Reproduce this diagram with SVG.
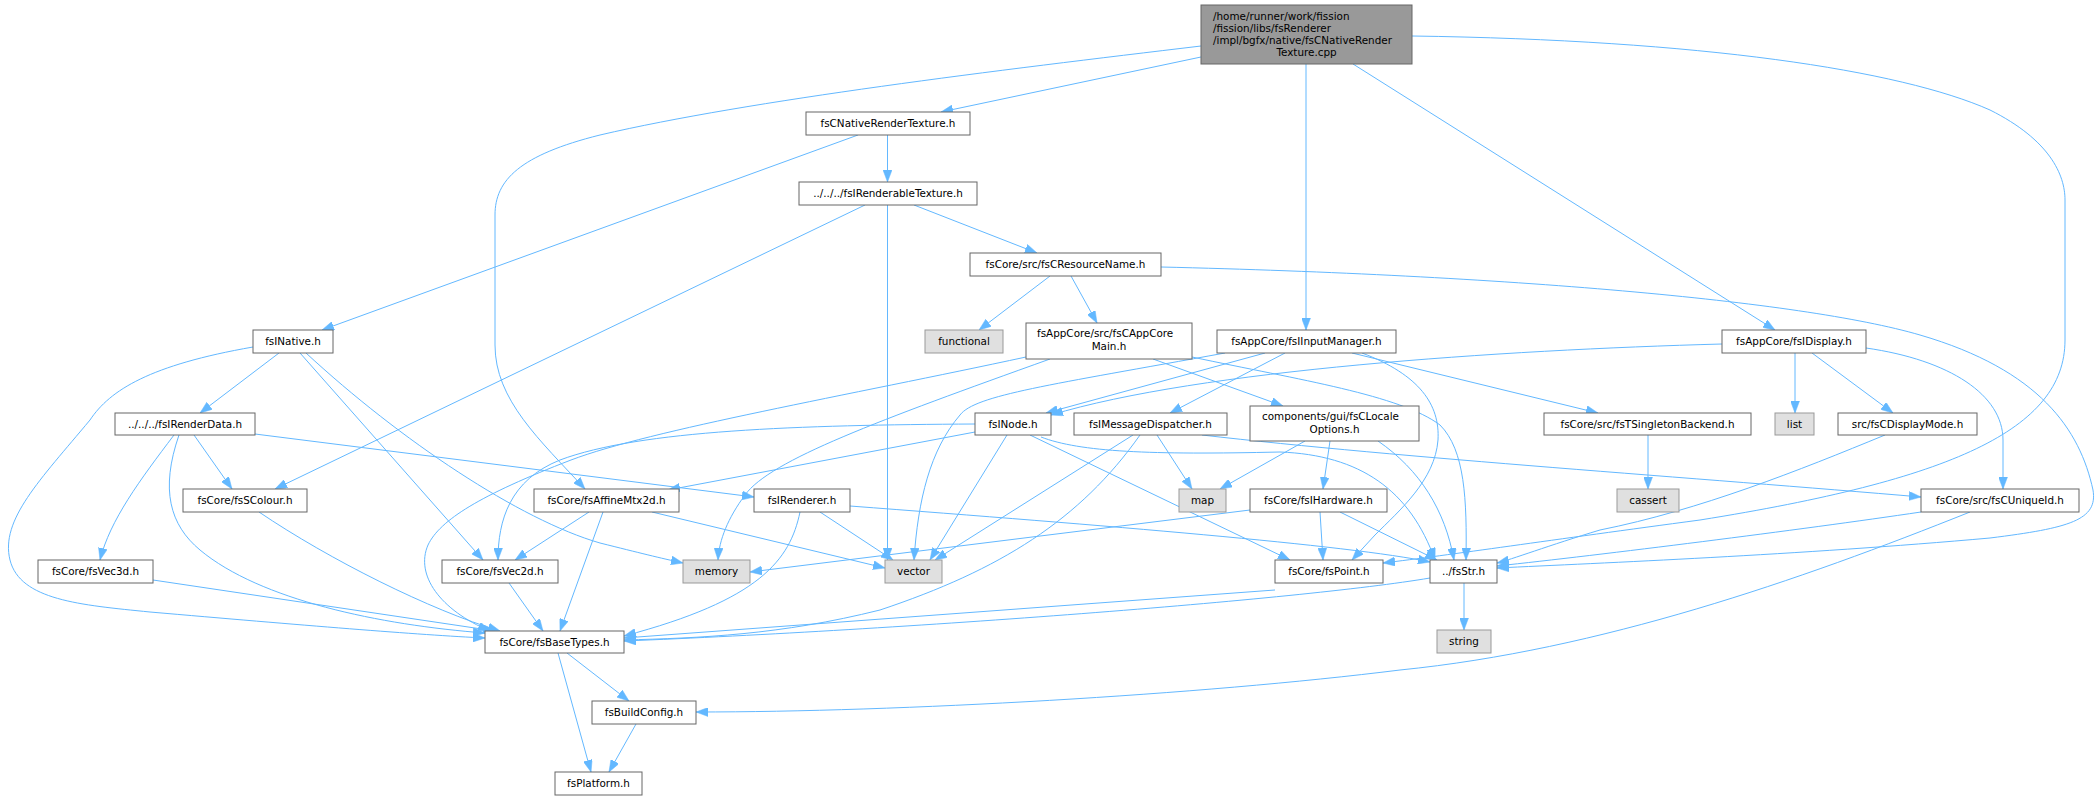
<svg xmlns="http://www.w3.org/2000/svg" width="2100" height="800" viewBox="0 0 2100 800">
<style>
rect{fill:#ffffff;stroke:#666666;stroke-width:1}
.g rect{fill:#e0e0e0;stroke:#999999}
.r rect{fill:#999999;stroke:#666666}
text{font-family:"DejaVu Sans","Liberation Sans",sans-serif;font-size:10.4px;fill:#000;text-anchor:middle}
text.l{text-anchor:start}
#edges path{fill:none;stroke:#63b8ff;stroke-width:1;marker-end:url(#ah)}
</style>
<defs>
<marker id="ah" markerUnits="userSpaceOnUse" markerWidth="12" markerHeight="9" refX="12" refY="4.5" orient="auto">
<path d="M0,0 L12,4.5 L0,9 z" fill="#63b8ff" stroke="#63b8ff" stroke-width="0.5"/>
</marker>
</defs>
<rect x="0" y="0" width="2100" height="800" style="fill:#ffffff;stroke:none"/>
<g id="edges">
<path d="M1201,57 L941,112"/>
<path d="M1201,46 C1000,70 750,100 600,135 C520,155 495,180 495,215 L495,345 C495,400 540,440 585,489"/>
<path d="M1306,64 L1306,330"/>
<path d="M1353,64 L1775,330"/>
<path d="M1412,36 C1700,40 1900,70 1990,110 C2050,140 2065,175 2065,200 L2065,340 C2065,430 1950,480 1700,520 C1550,540 1450,555 1383,563"/>
<path d="M858,135 L322,330"/>
<path d="M887.5,135 L887.5,182"/>
<path d="M865,205 L275,489"/>
<path d="M887.5,205 L887.5,560"/>
<path d="M914,205 L1037,253"/>
<path d="M1050,276 L979,330"/>
<path d="M1071,276 L1097,323"/>
<path d="M1161,267 C1500,275 1800,300 1920,335 C2040,370 2080,430 2093,490 C2098,520 2070,528 1990,538 C1800,555 1600,563 1497,568"/>
<path d="M279,353 L200,413"/>
<path d="M253,347 C150,365 110,390 90,420 C40,480 0,520 10,560 C20,600 80,605 150,612 C300,625 420,635 485,638"/>
<path d="M300,353 L483,560"/>
<path d="M306,353 C400,440 520,520 600,543 C640,553 660,558 683,563"/>
<path d="M174,435 C140,480 110,520 100,560"/>
<path d="M179,435 C160,490 170,525 200,550 C260,600 380,625 485,633"/>
<path d="M194,435 L232,489"/>
<path d="M255,434 L754,497"/>
<path d="M259,512 C330,560 430,610 500,631"/>
<path d="M153,580 L495,631"/>
<path d="M589,512 L515,560"/>
<path d="M603,512 L560,631"/>
<path d="M652,512 L885,568"/>
<path d="M509,583 L543,631"/>
<path d="M975,432 L668,490"/>
<path d="M975,424 C800,425 640,430 560,460 C510,480 498,520 498,560"/>
<path d="M1007,435 L930,560"/>
<path d="M1030,435 L1290,560"/>
<path d="M1041,437 C1080,452 1150,455 1280,452 C1360,455 1410,490 1435,560"/>
<path d="M1265,353 L1046,413"/>
<path d="M1225,353 C1050,385 975,395 960,415 C930,450 918,500 914,560"/>
<path d="M1285,353 L1170,413"/>
<path d="M1352,353 L1598,413"/>
<path d="M1362,353 C1420,375 1440,405 1438,440 C1435,480 1400,510 1375,535 L1352,560"/>
<path d="M1722,344 C1500,350 1200,370 1051,415"/>
<path d="M1795,353 L1795,413"/>
<path d="M1812,353 L1893,413"/>
<path d="M1866,348 C1950,360 2003,395 2003,440 L2003,489"/>
<path d="M1648,435 L1648,489"/>
<path d="M1885,435 C1800,470 1700,510 1600,530 C1550,545 1510,560 1497,563"/>
<path d="M1921,512 C1800,530 1600,555 1497,566"/>
<path d="M1970,512 C1800,580 1600,650 1400,670 C1200,695 900,712 696,712"/>
<path d="M1050,359 C880,420 770,460 745,495 C728,518 719,540 718,560"/>
<path d="M1153,359 L1283,406"/>
<path d="M1026,357 C850,395 650,430 571,460 C480,495 440,520 428,545 C415,575 440,610 490,631"/>
<path d="M1192,357 C1300,380 1400,395 1440,425 C1465,450 1467,500 1466,560"/>
<path d="M1378,441 C1420,470 1445,510 1454,560"/>
<path d="M1202,435 C1400,458 1700,478 1921,497"/>
<path d="M1157,435 L1192,489"/>
<path d="M1133,435 L935,560"/>
<path d="M1140,435 C1080,520 1000,570 880,610 C780,635 700,638 624,640"/>
<path d="M1305,441 L1220,489"/>
<path d="M1330,441 L1323,489"/>
<path d="M1250,510 L750,572"/>
<path d="M1320,512 L1323,560"/>
<path d="M1340,512 L1437,560"/>
<path d="M800,512 C790,560 760,600 624,636"/>
<path d="M820,512 L893,560"/>
<path d="M850,506 C1100,525 1350,545 1430,562"/>
<path d="M1275,590 L624,638"/>
<path d="M1430,578 C1300,600 900,630 624,641"/>
<path d="M1464,583 L1464,630"/>
<path d="M567,653 L629,701"/>
<path d="M558,653 L591,772"/>
<path d="M636,724 L609,772"/>
</g>
<g id="root" class="r"><rect x="1201" y="5" width="211" height="59"/>
<text class="l" x="1213" y="20">/home/runner/work/fission</text>
<text class="l" x="1213" y="32">/fission/libs/fsRenderer</text>
<text class="l" x="1213" y="44">/impl/bgfx/native/fsCNativeRender</text>
<text x="1306.5" y="56">Texture.cpp</text></g>
<g id="nrt"><rect x="806" y="112" width="164" height="23"/><text x="888" y="127">fsCNativeRenderTexture.h</text></g>
<g id="irt"><rect x="799" y="182" width="178" height="23"/><text x="888" y="197">../../../fsIRenderableTexture.h</text></g>
<g id="crn"><rect x="970" y="253" width="191" height="23"/><text x="1065.5" y="268">fsCore/src/fsCResourceName.h</text></g>
<g id="inative"><rect x="253" y="330" width="80" height="23"/><text x="293" y="345">fsINative.h</text></g>
<g id="functional" class="g"><rect x="925" y="330" width="78" height="23"/><text x="964" y="345">functional</text></g>
<g id="appcore"><rect x="1026" y="323" width="166" height="36"/><text class="l" x="1037" y="337">fsAppCore/src/fsCAppCore</text><text x="1109" y="350">Main.h</text></g>
<g id="inputmgr"><rect x="1217" y="330" width="179" height="23"/><text x="1306.5" y="345">fsAppCore/fsIInputManager.h</text></g>
<g id="idisplay"><rect x="1722" y="330" width="144" height="23"/><text x="1794" y="345">fsAppCore/fsIDisplay.h</text></g>
<g id="renderdata"><rect x="115" y="413" width="140" height="22"/><text x="185" y="428">../../../fsIRenderData.h</text></g>
<g id="inode"><rect x="975" y="413" width="76" height="22"/><text x="1013" y="428">fsINode.h</text></g>
<g id="msgdisp"><rect x="1074" y="413" width="153" height="22"/><text x="1150.5" y="428">fsIMessageDispatcher.h</text></g>
<g id="locale"><rect x="1250" y="406" width="169" height="35"/><text class="l" x="1262" y="420">components/gui/fsCLocale</text><text x="1334.5" y="433">Options.h</text></g>
<g id="singleton"><rect x="1544" y="413" width="207" height="22"/><text x="1647.5" y="428">fsCore/src/fsTSingletonBackend.h</text></g>
<g id="list" class="g"><rect x="1775" y="413" width="39" height="22"/><text x="1794.5" y="428">list</text></g>
<g id="displaymode"><rect x="1838" y="413" width="139" height="22"/><text x="1907.5" y="428">src/fsCDisplayMode.h</text></g>
<g id="scolour"><rect x="183" y="489" width="124" height="23"/><text x="245" y="504">fsCore/fsSColour.h</text></g>
<g id="affine"><rect x="534" y="489" width="145" height="23"/><text x="606.5" y="504">fsCore/fsAffineMtx2d.h</text></g>
<g id="irenderer"><rect x="754" y="489" width="96" height="23"/><text x="802" y="504">fsIRenderer.h</text></g>
<g id="map" class="g"><rect x="1179" y="489" width="47" height="23"/><text x="1202.5" y="504">map</text></g>
<g id="ihardware"><rect x="1250" y="489" width="137" height="23"/><text x="1318.5" y="504">fsCore/fsIHardware.h</text></g>
<g id="cassert" class="g"><rect x="1617" y="489" width="62" height="23"/><text x="1648" y="504">cassert</text></g>
<g id="uniqueid"><rect x="1921" y="489" width="158" height="23"/><text x="2000" y="504">fsCore/src/fsCUniqueId.h</text></g>
<g id="vec3d"><rect x="38" y="560" width="115" height="23"/><text x="95.5" y="575">fsCore/fsVec3d.h</text></g>
<g id="vec2d"><rect x="442" y="560" width="116" height="23"/><text x="500" y="575">fsCore/fsVec2d.h</text></g>
<g id="memory" class="g"><rect x="683" y="560" width="67" height="23"/><text x="716.5" y="575">memory</text></g>
<g id="vector" class="g"><rect x="885" y="560" width="57" height="23"/><text x="913.5" y="575">vector</text></g>
<g id="point"><rect x="1275" y="560" width="108" height="23"/><text x="1329" y="575">fsCore/fsPoint.h</text></g>
<g id="str"><rect x="1430" y="560" width="67" height="23"/><text x="1463.5" y="575">../fsStr.h</text></g>
<g id="basetypes"><rect x="485" y="631" width="139" height="22"/><text x="554.5" y="646">fsCore/fsBaseTypes.h</text></g>
<g id="string" class="g"><rect x="1437" y="630" width="54" height="23"/><text x="1464" y="645">string</text></g>
<g id="buildconfig"><rect x="592" y="701" width="104" height="23"/><text x="644" y="716">fsBuildConfig.h</text></g>
<g id="platform"><rect x="555" y="772" width="87" height="23"/><text x="598.5" y="787">fsPlatform.h</text></g>
</svg>
